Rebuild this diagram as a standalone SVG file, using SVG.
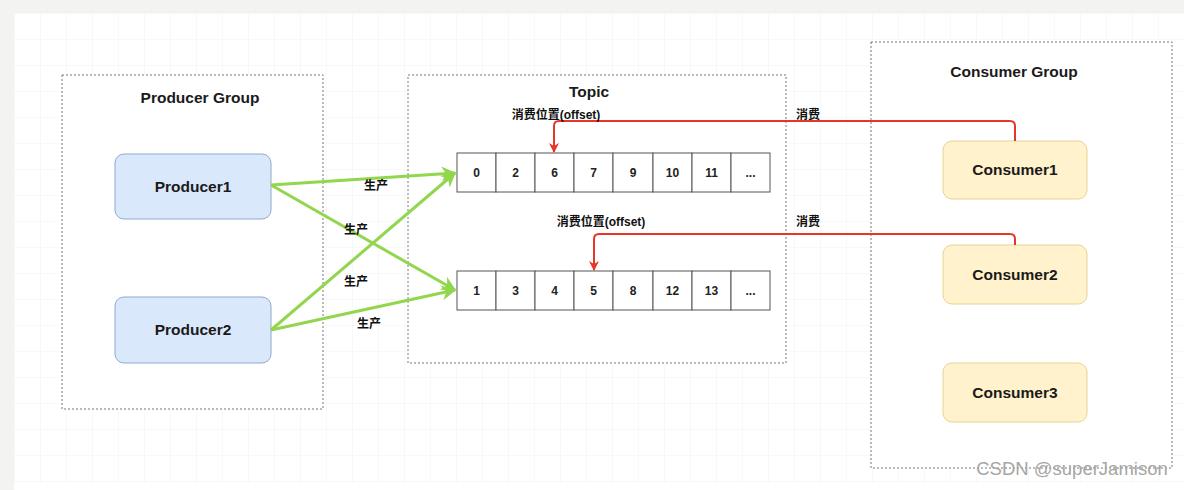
<svg xmlns="http://www.w3.org/2000/svg" width="1184" height="490" viewBox="0 0 1184 490">
<defs>
<pattern id="grid" width="26" height="26" patternUnits="userSpaceOnUse" x="14" y="13">
<path d="M26 0H0V26" fill="none" stroke="#f2f2f2" stroke-width="1"/>
</pattern>
<marker id="ag" viewBox="0 0 10 10" refX="9" refY="5" markerWidth="5" markerHeight="5" orient="auto" markerUnits="strokeWidth">
<path d="M0 0L10 5L0 10L3 5Z" fill="#92d64e"/>
</marker>
<marker id="ar" viewBox="0 0 10 10" refX="9" refY="5" markerWidth="5" markerHeight="5" orient="auto" markerUnits="strokeWidth">
<path d="M0 0L10 5L0 10L3 5Z" fill="#e5362a"/>
</marker>
</defs>
<style>
.grp{fill:#ffffff;stroke:#777;stroke-width:1;stroke-dasharray:2 2}
.title{font-family:"Liberation Sans",Arial,sans-serif;font-weight:bold;font-size:15.5px;fill:#1a1a1a;text-anchor:middle}
.prod{fill:#dae8fc;stroke:#8fa8cf;stroke-width:1}
.cons{fill:#fff2cc;stroke:#e8d390;stroke-width:1}
.lbl{font-family:"Liberation Sans",Arial,sans-serif;font-weight:bold;font-size:15.5px;fill:#1a1a1a;text-anchor:middle}
.cell{fill:#fff;stroke:#555;stroke-width:1}
.num{font-family:"Liberation Sans",Arial,sans-serif;font-weight:bold;font-size:12px;fill:#222;text-anchor:middle}
.small{font-family:"Liberation Sans","Noto Sans CJK SC",sans-serif;font-weight:bold;font-size:12px;fill:#111;text-anchor:middle}
.green{fill:none;stroke:#92d64e;stroke-width:3;marker-end:url(#ag)}
.red{fill:none;stroke:#e5362a;stroke-width:2;marker-end:url(#ar)}
</style>
<rect x="0" y="0" width="1184" height="490" fill="#f3f3f1"/>
<rect x="14" y="13" width="1170" height="470" fill="#ffffff"/>
<rect x="14" y="13" width="1170" height="470" fill="url(#grid)"/>
<rect x="14" y="483" width="1170" height="7" fill="#ffffff"/>

<g id="producer-group">
<rect class="grp" x="62" y="75" width="261" height="334"/>
<text class="title" x="200" y="103">Producer Group</text>
</g>
<g id="topic">
<rect class="grp" x="408" y="75" width="378" height="288"/>
<text class="title" x="589" y="97">Topic</text>
</g>
<g id="consumer-group">
<rect class="grp" x="871" y="42" width="301" height="426"/>
<text class="title" x="1014" y="77">Consumer Group</text>
</g>

<g id="producer1">
<rect class="prod" x="115" y="154" width="156" height="65" rx="9"/>
<text class="lbl" x="193" y="192">Producer1</text>
</g>
<g id="producer2">
<rect class="prod" x="115" y="297" width="156" height="66" rx="9"/>
<text class="lbl" x="193" y="335">Producer2</text>
</g>

<g id="partition1">
<rect class="cell" x="457" y="153" width="39" height="39"/>
<rect class="cell" x="496" y="153" width="39" height="39"/>
<rect class="cell" x="535" y="153" width="39" height="39"/>
<rect class="cell" x="574" y="153" width="39" height="39"/>
<rect class="cell" x="613" y="153" width="40" height="39"/>
<rect class="cell" x="653" y="153" width="39" height="39"/>
<rect class="cell" x="692" y="153" width="39" height="39"/>
<rect class="cell" x="731" y="153" width="39" height="39"/>
<text class="num" x="476.5" y="177">0</text>
<text class="num" x="515.5" y="177">2</text>
<text class="num" x="554.5" y="177">6</text>
<text class="num" x="593.5" y="177">7</text>
<text class="num" x="633" y="177">9</text>
<text class="num" x="672.5" y="177">10</text>
<text class="num" x="711.5" y="177">11</text>
<text class="num" x="750.5" y="177">...</text>
</g>
<g id="partition2">
<rect class="cell" x="457" y="271" width="39" height="39"/>
<rect class="cell" x="496" y="271" width="39" height="39"/>
<rect class="cell" x="535" y="271" width="39" height="39"/>
<rect class="cell" x="574" y="271" width="39" height="39"/>
<rect class="cell" x="613" y="271" width="40" height="39"/>
<rect class="cell" x="653" y="271" width="39" height="39"/>
<rect class="cell" x="692" y="271" width="39" height="39"/>
<rect class="cell" x="731" y="271" width="39" height="39"/>
<text class="num" x="476.5" y="295">1</text>
<text class="num" x="515.5" y="295">3</text>
<text class="num" x="554.5" y="295">4</text>
<text class="num" x="593.5" y="295">5</text>
<text class="num" x="633" y="295">8</text>
<text class="num" x="672.5" y="295">12</text>
<text class="num" x="711.5" y="295">13</text>
<text class="num" x="750.5" y="295">...</text>
</g>

<g id="consumer1">
<rect class="cons" x="943" y="141" width="144" height="58" rx="9"/>
<text class="lbl" x="1015" y="175">Consumer1</text>
</g>
<g id="consumer2">
<rect class="cons" x="943" y="245" width="144" height="59" rx="9"/>
<text class="lbl" x="1015" y="280">Consumer2</text>
</g>
<g id="consumer3">
<rect class="cons" x="943" y="363" width="144" height="59" rx="9"/>
<text class="lbl" x="1015" y="398">Consumer3</text>
</g>

<g id="connectors">
<path class="green" d="M271 185L455 173"/>
<path class="green" d="M271 185L455 290"/>
<path class="green" d="M271 330L455 173"/>
<path class="green" d="M271 330L455 290"/>
<path class="red" d="M1015 141V126Q1015 121 1010 121H559Q554 121 554 126V152"/>
<path class="red" d="M1015 245V239Q1015 234 1010 234H599Q594 234 594 239V270"/>
<text class="small" x="376" y="190">生产</text>
<text class="small" x="356" y="234">生产</text>
<text class="small" x="356" y="286">生产</text>
<text class="small" x="369" y="328">生产</text>
<text class="small" x="556" y="119">消费位置(offset)</text>
<text class="small" x="601" y="226">消费位置(offset)</text>
<text class="small" x="808" y="119">消费</text>
<text class="small" x="808" y="226">消费</text>
</g>
<text x="1072" y="475" font-family="'Liberation Sans',Arial,sans-serif" font-size="18.5" fill="#a6a6a6" text-anchor="middle">CSDN @superJamison</text>
</svg>
